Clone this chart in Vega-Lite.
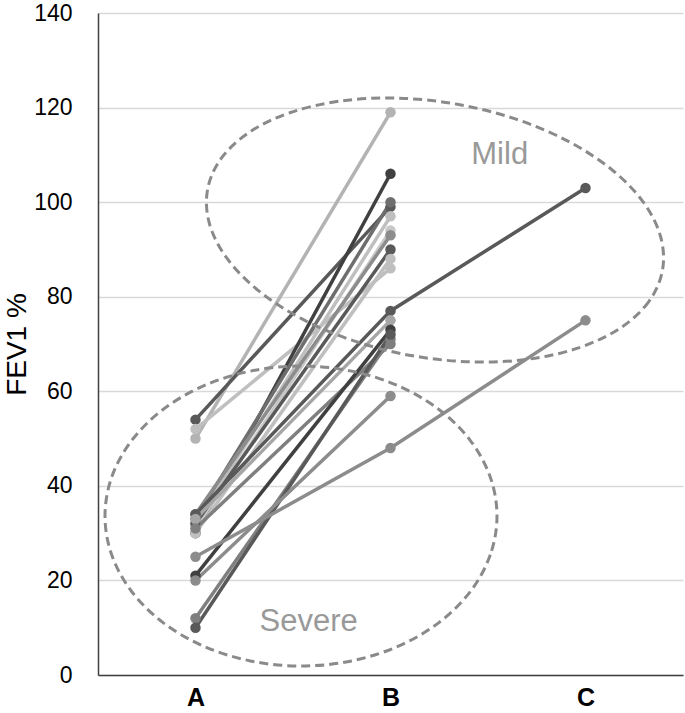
{
  "$schema": "https://vega.github.io/schema/vega-lite/v6.json",
  "width": 585,
  "height": 662,
  "autosize": "none",
  "padding": {"left": 98, "top": 13, "right": 2, "bottom": 38},
  "background": "white",
  "config": {
    "view": {"stroke": null},
    "font": "Liberation Sans"
  },
  "datasets": {
    "fev": [
      {"id": "P01", "t": 0, "v": 50}, {"id": "P01", "t": 1, "v": 119},
      {"id": "P02", "t": 0, "v": 54}, {"id": "P02", "t": 1, "v": 99},
      {"id": "P03", "t": 0, "v": 52}, {"id": "P03", "t": 1, "v": 86},
      {"id": "P04", "t": 0, "v": 30}, {"id": "P04", "t": 1, "v": 106},
      {"id": "P05", "t": 0, "v": 33}, {"id": "P05", "t": 1, "v": 100},
      {"id": "P06", "t": 0, "v": 32}, {"id": "P06", "t": 1, "v": 97},
      {"id": "P07", "t": 0, "v": 31}, {"id": "P07", "t": 1, "v": 94},
      {"id": "P08", "t": 0, "v": 34}, {"id": "P08", "t": 1, "v": 93},
      {"id": "P09", "t": 0, "v": 32}, {"id": "P09", "t": 1, "v": 90},
      {"id": "P10", "t": 0, "v": 30}, {"id": "P10", "t": 1, "v": 88},
      {"id": "P11", "t": 0, "v": 34}, {"id": "P11", "t": 1, "v": 77}, {"id": "P11", "t": 2, "v": 103},
      {"id": "P12", "t": 0, "v": 33}, {"id": "P12", "t": 1, "v": 75},
      {"id": "P13", "t": 0, "v": 31}, {"id": "P13", "t": 1, "v": 70},
      {"id": "P14", "t": 0, "v": 21}, {"id": "P14", "t": 1, "v": 73},
      {"id": "P15", "t": 0, "v": 12}, {"id": "P15", "t": 1, "v": 71},
      {"id": "P16", "t": 0, "v": 10}, {"id": "P16", "t": 1, "v": 72},
      {"id": "P17", "t": 0, "v": 20}, {"id": "P17", "t": 1, "v": 59},
      {"id": "P18", "t": 0, "v": 25}, {"id": "P18", "t": 1, "v": 48}, {"id": "P18", "t": 2, "v": 75}
    ],
    "ellipses": [
      {"e": "Mild", "k": 0, "x": 2.3949, "y": 85.62},
      {"e": "Mild", "k": 1, "x": 2.3256, "y": 79.03},
      {"e": "Mild", "k": 2, "x": 2.1817, "y": 73.46},
      {"e": "Mild", "k": 3, "x": 1.9727, "y": 69.30},
      {"e": "Mild", "k": 4, "x": 1.7130, "y": 66.82},
      {"e": "Mild", "k": 5, "x": 1.4202, "y": 66.21},
      {"e": "Mild", "k": 6, "x": 1.1144, "y": 67.50},
      {"e": "Mild", "k": 7, "x": 0.8164, "y": 70.60},
      {"e": "Mild", "k": 8, "x": 0.5462, "y": 75.30},
      {"e": "Mild", "k": 9, "x": 0.3227, "y": 81.29},
      {"e": "Mild", "k": 10, "x": 0.1609, "y": 88.14},
      {"e": "Mild", "k": 11, "x": 0.0718, "y": 95.41},
      {"e": "Mild", "k": 12, "x": 0.0615, "y": 102.58},
      {"e": "Mild", "k": 13, "x": 0.1308, "y": 109.18},
      {"e": "Mild", "k": 14, "x": 0.2747, "y": 114.74},
      {"e": "Mild", "k": 15, "x": 0.4837, "y": 118.91},
      {"e": "Mild", "k": 16, "x": 0.7434, "y": 121.38},
      {"e": "Mild", "k": 17, "x": 1.0362, "y": 121.99},
      {"e": "Mild", "k": 18, "x": 1.3420, "y": 120.70},
      {"e": "Mild", "k": 19, "x": 1.6400, "y": 117.60},
      {"e": "Mild", "k": 20, "x": 1.9102, "y": 112.90},
      {"e": "Mild", "k": 21, "x": 2.1337, "y": 106.91},
      {"e": "Mild", "k": 22, "x": 2.2955, "y": 100.06},
      {"e": "Mild", "k": 23, "x": 2.3846, "y": 92.79},
      {"e": "Severe", "k": 0, "x": 1.5461, "y": 33.62},
      {"e": "Severe", "k": 1, "x": 1.5118, "y": 25.41},
      {"e": "Severe", "k": 2, "x": 1.4114, "y": 17.76},
      {"e": "Severe", "k": 3, "x": 1.2517, "y": 11.19},
      {"e": "Severe", "k": 4, "x": 1.0436, "y": 6.15},
      {"e": "Severe", "k": 5, "x": 0.8011, "y": 2.98},
      {"e": "Severe", "k": 6, "x": 0.5410, "y": 1.90},
      {"e": "Severe", "k": 7, "x": 0.2809, "y": 2.98},
      {"e": "Severe", "k": 8, "x": 0.0384, "y": 6.15},
      {"e": "Severe", "k": 9, "x": -0.1697, "y": 11.19},
      {"e": "Severe", "k": 10, "x": -0.3294, "y": 17.76},
      {"e": "Severe", "k": 11, "x": -0.4298, "y": 25.41},
      {"e": "Severe", "k": 12, "x": -0.4641, "y": 33.62},
      {"e": "Severe", "k": 13, "x": -0.4298, "y": 41.83},
      {"e": "Severe", "k": 14, "x": -0.3294, "y": 49.48},
      {"e": "Severe", "k": 15, "x": -0.1697, "y": 56.05},
      {"e": "Severe", "k": 16, "x": 0.0384, "y": 61.09},
      {"e": "Severe", "k": 17, "x": 0.2809, "y": 64.26},
      {"e": "Severe", "k": 18, "x": 0.5410, "y": 65.34},
      {"e": "Severe", "k": 19, "x": 0.8011, "y": 64.26},
      {"e": "Severe", "k": 20, "x": 1.0436, "y": 61.09},
      {"e": "Severe", "k": 21, "x": 1.2517, "y": 56.05},
      {"e": "Severe", "k": 22, "x": 1.4114, "y": 49.48},
      {"e": "Severe", "k": 23, "x": 1.5118, "y": 41.83}
    ],
    "labels": [
      {"label": "Mild", "x": 1.56, "y": 110},
      {"label": "Severe", "x": 0.58, "y": 11.2}
    ]
  },
  "layer": [
    {
      "data": {"name": "fev"},
      "mark": {"type": "line", "strokeWidth": 3.5},
      "encoding": {
        "x": {
          "field": "t", "type": "quantitative",
          "scale": {"domain": [-0.5, 2.5], "nice": false, "zero": false},
          "axis": {
            "values": [0, 1, 2],
            "labelExpr": "datum.value == 0 ? 'A' : datum.value == 1 ? 'B' : 'C'",
            "title": null, "grid": false, "ticks": false,
            "labelFontSize": 25, "labelFontWeight": "bold", "labelColor": "#000000",
            "labelPadding": 10, "domainColor": "#404040", "domainWidth": 1.5
          }
        },
        "y": {
          "field": "v", "type": "quantitative",
          "scale": {"domain": [0, 140], "nice": false},
          "axis": {
            "values": [0, 20, 40, 60, 80, 100, 120, 140],
            "title": "FEV1 %", "titleFontSize": 28, "titleFontWeight": "normal", "titleColor": "#000000",
            "titlePadding": 2,
            "grid": true, "gridColor": "#d9d9d9", "gridWidth": 1.5, "ticks": false,
            "labelFontSize": 23, "labelColor": "#000000", "labelPadding": 26,
            "domainColor": "#404040", "domainWidth": 1.5
          }
        },
        "color": {
          "field": "id", "type": "nominal", "legend": null,
          "scale": {
            "domain": ["P01","P02","P03","P04","P05","P06","P07","P08","P09","P10","P11","P12","P13","P14","P15","P16","P17","P18"],
            "range": ["#b3b3b3","#595959","#bfbfbf","#404040","#6e6e6e","#bfbfbf","#c8c8c8","#8c8c8c","#595959","#bfbfbf","#595959","#a6a6a6","#7f7f7f","#404040","#7f7f7f","#595959","#8c8c8c","#8c8c8c"]
          }
        },
        "order": {"field": "t"}
      }
    },
    {
      "data": {"name": "fev"},
      "mark": {"type": "circle", "size": 110, "opacity": 1},
      "encoding": {
        "x": {"field": "t", "type": "quantitative"},
        "y": {"field": "v", "type": "quantitative"},
        "color": {"field": "id", "type": "nominal", "legend": null}
      }
    },
    {
      "data": {"name": "ellipses"},
      "mark": {"type": "line", "interpolate": "cardinal-closed", "strokeWidth": 3, "strokeDash": [9, 5], "color": "#8a8a8a"},
      "encoding": {
        "x": {"field": "x", "type": "quantitative"},
        "y": {"field": "y", "type": "quantitative"},
        "detail": {"field": "e"},
        "order": {"field": "k"}
      }
    },
    {
      "data": {"name": "labels"},
      "mark": {"type": "text", "fontSize": 31, "color": "#999999", "align": "center", "baseline": "middle"},
      "encoding": {
        "x": {"field": "x", "type": "quantitative"},
        "y": {"field": "y", "type": "quantitative"},
        "text": {"field": "label"}
      }
    }
  ]
}
